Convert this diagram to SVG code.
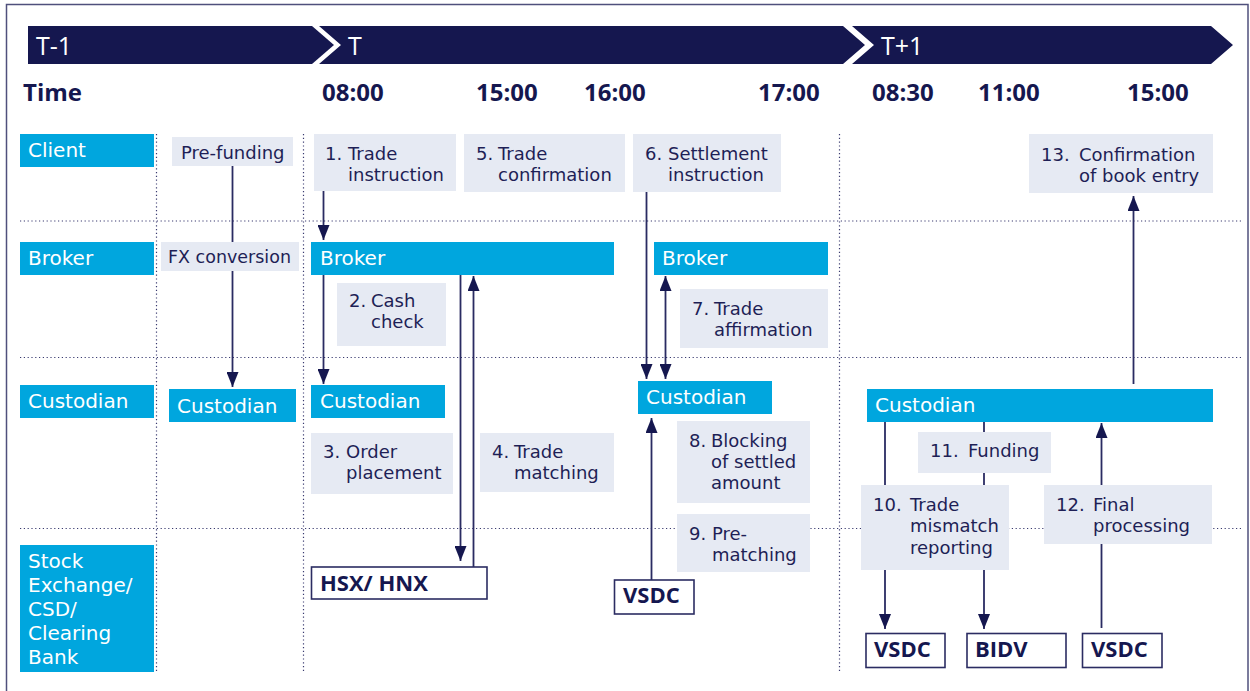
<svg xmlns="http://www.w3.org/2000/svg" width="1250" height="691" viewBox="0 0 1250 691">
<style>
text{font-family:"DejaVu Sans","Open Sans","Liberation Sans",sans-serif;}
.band{fill:#15174F;}
.bandt{fill:#ffffff;font-size:25px;font-family:"Open Sans","Noto Sans",sans-serif;}
.time{fill:#15174F;font-size:24px;font-weight:700;font-family:"Open Sans","Noto Sans",sans-serif;}
.lane{fill:#00A6DE;}
.lanet{fill:#ffffff;font-size:20px;}
.blue{fill:#00A6DE;}
.bluet{fill:#ffffff;font-size:20px;}
.lite{fill:#E6EAF3;}
.litet{fill:#1E1F56;font-size:18px;}
.out{fill:#ffffff;stroke:#2B2C62;stroke-width:1.6;}
.outt{fill:#15174F;font-size:22px;font-weight:700;font-family:"Open Sans","Noto Sans",sans-serif;}
.grid{stroke:#3A3B70;stroke-width:1.2;stroke-dasharray:1.2 2.6;fill:none;}
.conn{stroke:#2A2B62;stroke-width:1.8;fill:none;}
.one{marker-end:url(#ah);}
.two{marker-end:url(#ah);marker-start:url(#ah);}
</style>
<defs>
<marker id="ah" markerUnits="userSpaceOnUse" markerWidth="16" markerHeight="12" refX="15" refY="6" orient="auto-start-reverse">
<path d="M0,0 L15,6 L0,12 Z" fill="#15174F"/>
</marker>
</defs>
<rect x="0" y="0" width="1250" height="691" fill="#ffffff"/>
<rect x="6.5" y="4.5" width="1241.5" height="700" fill="none" stroke="#4F507C" stroke-width="1.5"/>

<g id="timeline">
<polygon class="band" points="28,26 312,26 334,45 312,64 28,64"/>
<polygon class="band" points="319,26 843,26 865,45 843,64 319,64 341,45"/>
<polygon class="band" points="852,26 1211,26 1233,45 1211,64 852,64 874,45"/>
<text class="bandt" x="36" y="55">T-1</text>
<text class="bandt" x="348" y="55">T</text>
<text class="bandt" x="881" y="55">T+1</text>
<text class="time" x="23" y="101">Time</text>
<text class="time" x="322" y="101">08:00</text>
<text class="time" x="476" y="101">15:00</text>
<text class="time" x="584" y="101">16:00</text>
<text class="time" x="758" y="101">17:00</text>
<text class="time" x="872" y="101">08:30</text>
<text class="time" x="978" y="101">11:00</text>
<text class="time" x="1127" y="101">15:00</text>
</g>

<g id="grid">
<line class="grid" x1="20" y1="221" x2="1242" y2="221"/>
<line class="grid" x1="20" y1="357.5" x2="1242" y2="357.5"/>
<line class="grid" x1="20" y1="528.5" x2="1242" y2="528.5"/>
<line class="grid" x1="156.5" y1="134" x2="156.5" y2="672"/>
<line class="grid" x1="303.5" y1="134" x2="303.5" y2="672"/>
<line class="grid" x1="839.5" y1="134" x2="839.5" y2="672"/>
</g>

<g id="lanes">
<g id="lane-client"><rect class="lane" x="20" y="134" width="134" height="33"/><text class="lanet" x="28" y="157">Client</text></g>
<g id="lane-broker"><rect class="lane" x="20" y="242" width="134" height="33"/><text class="lanet" x="28" y="265">Broker</text></g>
<g id="lane-custodian"><rect class="lane" x="20" y="385" width="134" height="33"/><text class="lanet" x="28" y="408">Custodian</text></g>
<g id="lane-exchange"><rect class="lane" x="20" y="545" width="134" height="127"/>
<text class="lanet"><tspan x="28" y="568">Stock</tspan><tspan x="28" y="592">Exchange/</tspan><tspan x="28" y="616">CSD/</tspan><tspan x="28" y="640">Clearing</tspan><tspan x="28" y="664">Bank</tspan></text></g>
</g>

<g id="connectors">
<line class="conn one" x1="232.5" y1="166" x2="232.5" y2="387"/>
<line class="conn one" x1="323.5" y1="191" x2="323.5" y2="240"/>
<line class="conn one" x1="323.5" y1="275" x2="323.5" y2="384"/>
<line class="conn one" x1="460.5" y1="273" x2="460.5" y2="561"/>
<line class="conn one" x1="473.5" y1="567" x2="473.5" y2="276"/>
<line class="conn one" x1="646.5" y1="192" x2="646.5" y2="379"/>
<line class="conn two" x1="665.5" y1="276" x2="665.5" y2="379"/>
<line class="conn one" x1="651.5" y1="580" x2="651.5" y2="418"/>
<line class="conn one" x1="1133.5" y1="384" x2="1133.5" y2="196"/>
<line class="conn one" x1="885" y1="422" x2="885" y2="629"/>
<line class="conn one" x1="984" y1="422" x2="984" y2="629"/>
<line class="conn one" x1="1101.5" y1="628" x2="1101.5" y2="423"/>
</g>

<g id="prefunding"><rect class="lite" x="172" y="137" width="121" height="29"/><text class="litet" x="181" y="159">Pre-funding</text></g>
<g id="fx-conversion"><rect class="lite" x="161" y="242" width="138" height="29"/><text class="litet" x="168" y="263" textLength="123" lengthAdjust="spacingAndGlyphs">FX conversion</text></g>
<g id="custodian-t1"><rect class="blue" x="169" y="389" width="127" height="33"/><text class="bluet" x="177" y="413">Custodian</text></g>

<g id="step1"><rect class="lite" x="314" y="134" width="142" height="57"/><text class="litet"><tspan x="325" y="160">1.</tspan><tspan x="348" y="160">Trade</tspan><tspan x="348" y="181">instruction</tspan></text></g>
<g id="step5"><rect class="lite" x="464" y="134" width="161" height="58"/><text class="litet"><tspan x="476" y="160">5.</tspan><tspan x="498" y="160">Trade</tspan><tspan x="498" y="181">confirmation</tspan></text></g>
<g id="step6"><rect class="lite" x="633" y="134" width="148" height="58"/><text class="litet"><tspan x="645" y="160">6.</tspan><tspan x="668" y="160">Settlement</tspan><tspan x="668" y="181">instruction</tspan></text></g>
<g id="step13"><rect class="lite" x="1029" y="134" width="184" height="59"/><text class="litet"><tspan x="1041" y="161">13.</tspan><tspan x="1079" y="161">Confirmation</tspan><tspan x="1079" y="182">of book entry</tspan></text></g>

<g id="broker-t"><rect class="blue" x="311" y="242" width="303" height="33"/><text class="bluet" x="320" y="265">Broker</text></g>
<g id="broker-t2"><rect class="blue" x="654" y="242" width="174" height="33"/><text class="bluet" x="662" y="265">Broker</text></g>
<g id="step2"><rect class="lite" x="337" y="283" width="109" height="63"/><text class="litet"><tspan x="349" y="307">2.</tspan><tspan x="371" y="307">Cash</tspan><tspan x="371" y="328">check</tspan></text></g>
<g id="step7"><rect class="lite" x="680" y="289" width="148" height="59"/><text class="litet"><tspan x="692" y="315">7.</tspan><tspan x="714" y="315">Trade</tspan><tspan x="714" y="336">affirmation</tspan></text></g>

<g id="custodian-t"><rect class="blue" x="311" y="385" width="134" height="33"/><text class="bluet" x="320" y="408">Custodian</text></g>
<g id="custodian-t2"><rect class="blue" x="638" y="381" width="134" height="33"/><text class="bluet" x="646" y="404">Custodian</text></g>
<g id="custodian-t3"><rect class="blue" x="867" y="389" width="346" height="33"/><text class="bluet" x="875" y="412">Custodian</text></g>

<g id="step3"><rect class="lite" x="311" y="433" width="142" height="61"/><text class="litet"><tspan x="323" y="458">3.</tspan><tspan x="346" y="458">Order</tspan><tspan x="346" y="479">placement</tspan></text></g>
<g id="step4"><rect class="lite" x="480" y="433" width="134" height="59"/><text class="litet"><tspan x="492" y="458">4.</tspan><tspan x="514" y="458">Trade</tspan><tspan x="514" y="479">matching</tspan></text></g>
<g id="step8"><rect class="lite" x="677" y="421" width="133" height="82"/><text class="litet"><tspan x="689" y="447">8.</tspan><tspan x="711" y="447">Blocking</tspan><tspan x="711" y="468">of settled</tspan><tspan x="711" y="489">amount</tspan></text></g>
<g id="step9"><rect class="lite" x="677" y="514" width="133" height="58"/><text class="litet"><tspan x="689" y="540">9.</tspan><tspan x="712" y="540">Pre-</tspan><tspan x="712" y="561">matching</tspan></text></g>
<g id="step11"><rect class="lite" x="918" y="432" width="133" height="41"/><text class="litet"><tspan x="930" y="457">11.</tspan><tspan x="968" y="457">Funding</tspan></text></g>
<g id="step10"><rect class="lite" x="861" y="485" width="148" height="85"/><text class="litet"><tspan x="873" y="511">10.</tspan><tspan x="910" y="511">Trade</tspan><tspan x="910" y="532">mismatch</tspan><tspan x="910" y="554">reporting</tspan></text></g>
<g id="step12"><rect class="lite" x="1044" y="485" width="168" height="59"/><text class="litet"><tspan x="1056" y="511">12.</tspan><tspan x="1093" y="511">Final</tspan><tspan x="1093" y="532">processing</tspan></text></g>

<g id="hsx-hnx"><rect class="out" x="311.5" y="567" width="175.5" height="32"/><text class="outt" x="320" y="591">HSX/ HNX</text></g>
<g id="vsdc-t"><rect class="out" x="614.5" y="580" width="79.5" height="34"/><text class="outt" x="623" y="603">VSDC</text></g>
<g id="vsdc-t1a"><rect class="out" x="866" y="633.5" width="79" height="34"/><text class="outt" x="874" y="657">VSDC</text></g>
<g id="bidv"><rect class="out" x="967" y="633.5" width="99" height="34"/><text class="outt" x="975" y="657">BIDV</text></g>
<g id="vsdc-t1b"><rect class="out" x="1082.5" y="633.5" width="79.5" height="34"/><text class="outt" x="1091" y="657">VSDC</text></g>
</svg>
